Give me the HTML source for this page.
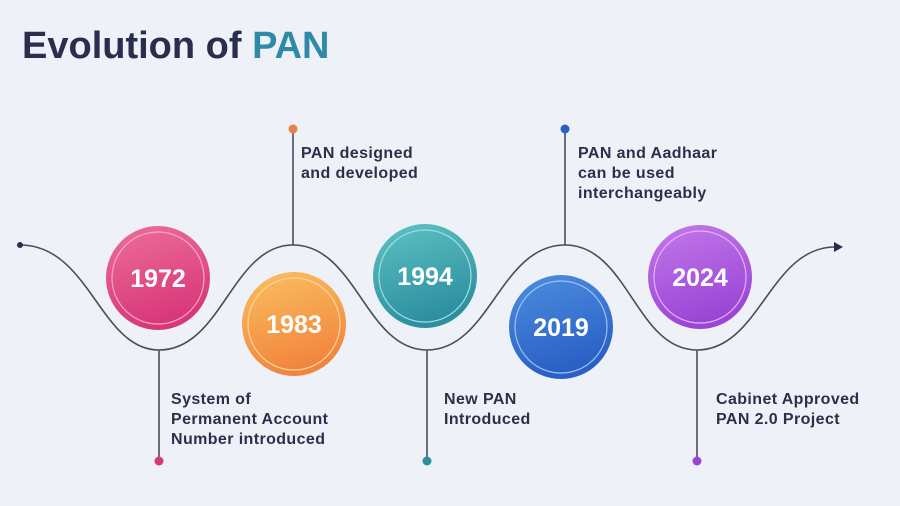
<!DOCTYPE html>
<html><head><meta charset="utf-8"><style>
html,body{margin:0;padding:0;background:#eef2f8;}
svg{display:block}
text{font-family:"Liberation Sans",sans-serif;font-weight:bold}
</style></head><body>
<svg width="900" height="506" viewBox="0 0 900 506" xmlns="http://www.w3.org/2000/svg">
<defs>
<linearGradient id="g1" x1="0" y1="0" x2="0.3" y2="1"><stop offset="0" stop-color="#ec6f98"/><stop offset="1" stop-color="#d8377a"/></linearGradient>
<linearGradient id="g2" x1="0" y1="0" x2="0.3" y2="1"><stop offset="0" stop-color="#f9c060"/><stop offset="1" stop-color="#f2853e"/></linearGradient>
<linearGradient id="g3" x1="0" y1="0" x2="0.3" y2="1"><stop offset="0" stop-color="#5ec2c4"/><stop offset="1" stop-color="#2c8f9f"/></linearGradient>
<linearGradient id="g4" x1="0" y1="0" x2="0.3" y2="1"><stop offset="0" stop-color="#4d8ee0"/><stop offset="1" stop-color="#2a5fc4"/></linearGradient>
<linearGradient id="g5" x1="0" y1="0" x2="0.3" y2="1"><stop offset="0" stop-color="#c479ea"/><stop offset="1" stop-color="#9a45d6"/></linearGradient>
</defs>
<rect width="900" height="506" fill="#eef2f8"/>
<text x="22" y="58" font-size="38" fill="#2b2d4f" style="font-weight:900">Evolution of <tspan fill="#2f8aa8">PAN</tspan></text>
<path d="M20,245 C90,245 100,350 159,350 C222,350 232,245 293,245 C356,245 366,350 427,350 C490,350 500,245 565,245 C628,245 636,350 697,350 C760,350 770,247 835,247" fill="none" stroke="#4a4c5e" stroke-width="1.6"/>
<circle cx="20" cy="245" r="3" fill="#2b2d4f"/>
<path d="M834,242 L843,247 L834,252 Z" fill="#2b2d4f"/>
<g stroke="#4a4c5e" stroke-width="1.6">
<line x1="159" y1="350" x2="159" y2="461"/>
<line x1="293" y1="245" x2="293" y2="129"/>
<line x1="427" y1="350" x2="427" y2="461"/>
<line x1="565" y1="245" x2="565" y2="129"/>
<line x1="697" y1="350" x2="697" y2="461"/>
</g>
<circle cx="159" cy="461" r="4.5" fill="#d8377a"/>
<circle cx="293" cy="129" r="4.5" fill="#e8804a"/>
<circle cx="427" cy="461" r="4.5" fill="#2c8f9f"/>
<circle cx="565" cy="129" r="4.5" fill="#2a5fc4"/>
<circle cx="697" cy="461" r="4.5" fill="#9a45d6"/>
<g>
<circle cx="158" cy="278" r="52" fill="url(#g1)"/><circle cx="158" cy="278" r="46" fill="none" stroke="#f7a6c4" stroke-width="1.2"/>
<circle cx="294" cy="324" r="52" fill="url(#g2)"/><circle cx="294" cy="324" r="46" fill="none" stroke="#fcd59a" stroke-width="1.2"/>
<circle cx="425" cy="276" r="52" fill="url(#g3)"/><circle cx="425" cy="276" r="46" fill="none" stroke="#9fdfe0" stroke-width="1.2"/>
<circle cx="561" cy="327" r="52" fill="url(#g4)"/><circle cx="561" cy="327" r="46" fill="none" stroke="#9cc3f2" stroke-width="1.2"/>
<circle cx="700" cy="277" r="52" fill="url(#g5)"/><circle cx="700" cy="277" r="46" fill="none" stroke="#e2b3f6" stroke-width="1.2"/>
</g>
<g font-size="25" fill="#ffffff" text-anchor="middle">
<text x="158" y="287">1972</text>
<text x="294" y="333">1983</text>
<text x="425" y="285">1994</text>
<text x="561" y="336">2019</text>
<text x="700" y="286">2024</text>
</g>
<g font-size="16" fill="#2d2f4a" style="letter-spacing:0.4px">
<text x="301" y="158">PAN designed</text>
<text x="301" y="178">and developed</text>
<text x="578" y="158">PAN and Aadhaar</text>
<text x="578" y="178">can be used</text>
<text x="578" y="198">interchangeably</text>
<text x="171" y="404">System of</text>
<text x="171" y="424">Permanent Account</text>
<text x="171" y="444">Number introduced</text>
<text x="444" y="404">New PAN</text>
<text x="444" y="424">Introduced</text>
<text x="716" y="404">Cabinet Approved</text>
<text x="716" y="424">PAN 2.0 Project</text>
</g>
</svg>
</body></html>
